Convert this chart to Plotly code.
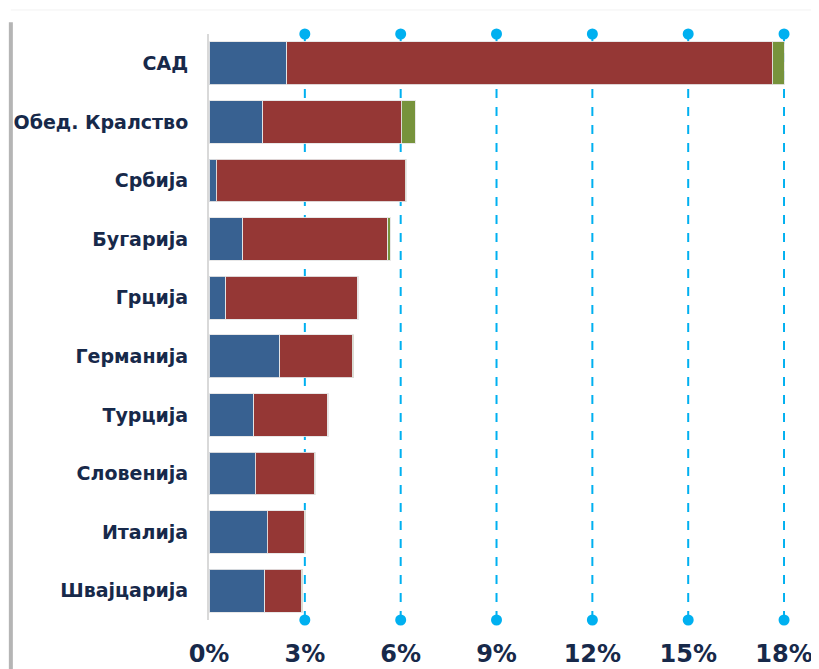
import plotly.graph_objs as go

# --- БОИ ---
BLUE = "#386191"
RED = "#953735"
GREEN = "#77933C"
GRID = "#00B0F0"
TEXT = "#17294A"

# --- ПОДАТОЦИ (во %) ---
zemji = ["САД", "Обед. Кралство", "Србија", "Бугарија", "Грција",
         "Германија", "Турција", "Словенија", "Италија", "Швајцарија"]
serija_1 = [2.44, 1.69, 0.22, 1.06, 0.53, 2.22, 1.40, 1.44, 1.82, 1.75]
serija_2 = [15.19, 4.32, 5.92, 4.54, 4.13, 2.26, 2.32, 1.85, 1.16, 1.13]
serija_3 = [0.37, 0.44, 0.03, 0.07, 0.01, 0.05, 0.02, 0.03, 0.05, 0.05]
tick_vrednosti = [0, 3, 6, 9, 12, 15, 18]
tick_tekst = ["0%", "3%", "6%", "9%", "12%", "15%", "18%"]

fig = go.Figure()
for vals, boja in [(serija_1, BLUE), (serija_2, RED), (serija_3, GREEN)]:
    fig.add_trace(go.Bar(y=zemji, x=vals, orientation="h", marker_color=boja,
                         marker_line=dict(color="rgba(230,230,230,0.9)", width=1),
                         width=0.73, showlegend=False, hoverinfo="skip"))

# точки на краевите од мрежните линии
for t in tick_vrednosti[1:]:
    fig.add_trace(go.Scatter(x=[t, t], y=[0, 1], yaxis="y2", mode="markers",
                             marker=dict(color=GRID, size=11), cliponaxis=False,
                             showlegend=False, hoverinfo="skip"))
    fig.add_shape(type="line", xref="x", yref="paper", x0=t, x1=t, y0=0, y1=1,
                  line=dict(color=GRID, width=2, dash="dash"), layer="below")

# рамка на картичката
fig.add_shape(type="line", xref="paper", yref="paper", x0=-0.344, x1=-0.344, y0=-0.09, y1=1.02,
              line=dict(color="#B5B5B5", width=4), layer="below")
fig.add_shape(type="line", xref="paper", yref="paper", x0=-0.344, x1=1.06, y0=1.041, y1=1.041,
              line=dict(color="#F2F2F2", width=1), layer="below")

# страницата има 8px маргина, па фигурата е помала за толку
fig.update_layout(
    barmode="stack",
    width=811, height=661,
    margin=dict(l=201, r=34, t=26, b=49),
    paper_bgcolor="white", plot_bgcolor="white",
    font=dict(family="DejaVu Sans", color=TEXT),
    xaxis=dict(range=[0, 18.03], tickvals=tick_vrednosti, ticktext=tick_tekst,
               showgrid=False, zeroline=False, showline=False, automargin=False,
               tickfont=dict(size=24, family="DejaVu Sans", weight="bold"),
               ticklabelstandoff=17),
    yaxis=dict(range=[9.5, -0.5], showgrid=False, zeroline=False, automargin=False,
               showline=True, linecolor="#D9D9D9", linewidth=2,
               tickfont=dict(size=19, family="DejaVu Sans", weight="bold"),
               ticklabelstandoff=15),
    yaxis2=dict(range=[0, 1], overlaying="y", visible=False),
)

fig.write_html("out.html")
